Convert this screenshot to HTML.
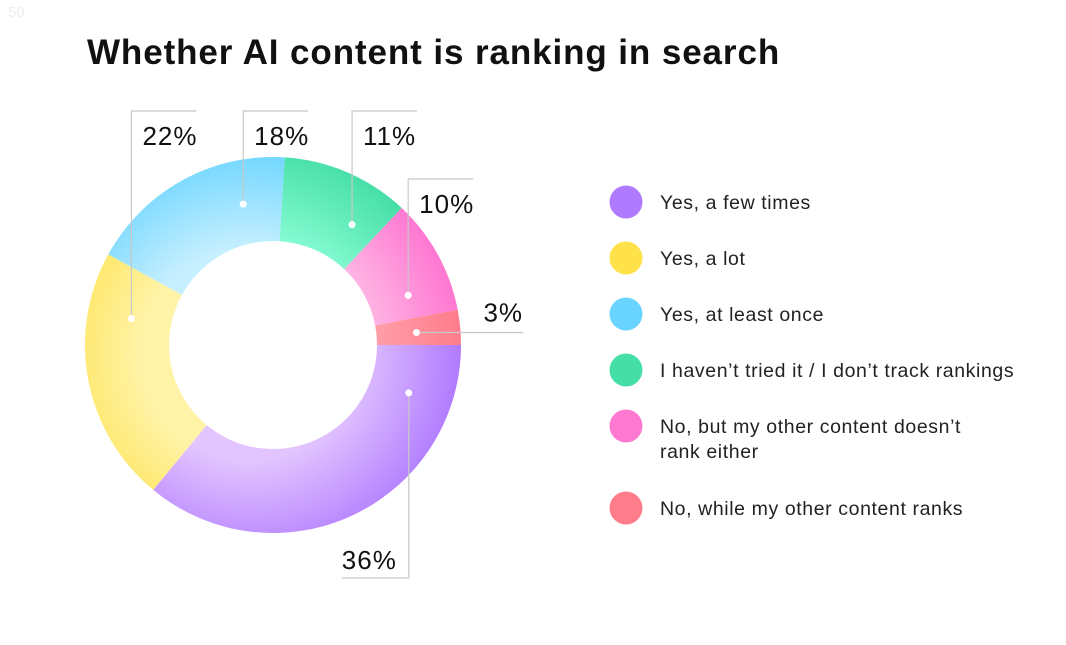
<!DOCTYPE html>
<html><head><meta charset="utf-8"><style>
body{margin:0;background:#fff;width:1066px;height:640px;overflow:hidden;font-family:"Liberation Sans",sans-serif}
svg text{font-family:"Liberation Sans",sans-serif}
</style></head><body>
<svg width="1066" height="640">
<defs id="defs"></defs>
<text x="8" y="17" font-size="15" fill="#eee">50</text>
<text x="87" y="64" font-size="35" font-weight="bold" letter-spacing="0.9" fill="#111">Whether AI content is ranking in search</text>
<g id="slices"></g><g id="labels"></g><g id="legend"></g>
</svg>
<script>
const categories=["Yes, a few times","Yes, a lot","Yes, at least once","I haven\u2019t tried it / I don\u2019t track rankings","No, but my other content doesn\u2019t|rank either","No, while my other content ranks"];
const values=[36,22,18,11,10,3];
const colors=[["#e2c4ff","#b07aff"],["#fff3a8","#ffe24a"],["#c6efff","#68d4ff"],["#8dffd8","#45dea6"],["#ffc4e8","#ff78d2"],["#ffa8b0","#ff7c8c"]];
const dotFrac=[0.15,0.77,0.76,0.75,0.74,0.54];
const NS="http://www.w3.org/2000/svg";
const cx=273,cy=345,R=188,r0=104,rm=144;
function mk(t,a,p){const e=document.createElementNS(NS,t);for(const k in a)e.setAttribute(k,a[k]);p.appendChild(e);return e;}
const defs=document.getElementById('defs'),sl=document.getElementById('slices'),lb=document.getElementById('labels'),lg=document.getElementById('legend');
const total=values.reduce((a,b)=>a+b,0);
function pt(rad,a){return [cx+rad*Math.cos(a),cy+rad*Math.sin(a)];}
let ang=0;
values.forEach((v,i)=>{
 const a0=ang,a1=ang+v/total*2*Math.PI;ang=a1;
 const g=mk('radialGradient',{id:'g'+i,gradientUnits:'userSpaceOnUse',cx:cx-25,cy:cy+10,r:R+25},defs);
 mk('stop',{offset:'0.5','stop-color':colors[i][0]},g);mk('stop',{offset:'1','stop-color':colors[i][1]},g);
 const la=(a1-a0)>Math.PI?1:0;
 const p1=pt(R,a0),p2=pt(R,a1),p3=pt(r0,a1),p4=pt(r0,a0);
 const s=mk('path',{d:`M${p1} A${R},${R} 0 ${la} 1 ${p2} L${p3} A${r0},${r0} 0 ${la} 0 ${p4}Z`,fill:`url(#g${i})`},sl);
 
 
 const m=a0+(a1-a0)*dotFrac[i],[dx,dy]=pt(rm,m);
 let d,tx,ty;
 const txt=v+'%';
 if(v<5){d=`M${dx},${dy} H${dx+107}`;tx=dx+67;ty=dy-11;}
 else if(Math.sin(m)>0.2){d=`M${dx},${dy} V578 H${dx-67}`;tx=dx-67;ty=569;}
 else {const top=dy<260||dx<200?111:179;d=`M${dx},${dy} V${top} H${dx+65}`;tx=dx+11;ty=top+34;}
 const l=mk('path',{d:d,stroke:'#c8c8c8','stroke-width':1.2,fill:'none'},lb);
 
 
 const c=mk('circle',{cx:dx,cy:dy,r:3.5,fill:'#fff'},lb);
 
 
 const t=mk('text',{x:tx,y:ty,'font-size':26,'letter-spacing':1,fill:'#111'},lb);t.textContent=txt;
 
 
});
const ly=[202,258,314,370,426,508];
categories.forEach((c,i)=>{
 const ci=mk('circle',{cx:626,cy:ly[i],r:16.5,fill:colors[i][1]},lg);
 
 
 const parts=c.split('|');
 parts.forEach((p,j)=>{const t=mk('text',{x:660,y:ly[i]+7+j*25,'font-size':19.5,'letter-spacing':0.6,fill:'#222'},lg);t.textContent=p;
 
 });
});
</script>
</body></html>
